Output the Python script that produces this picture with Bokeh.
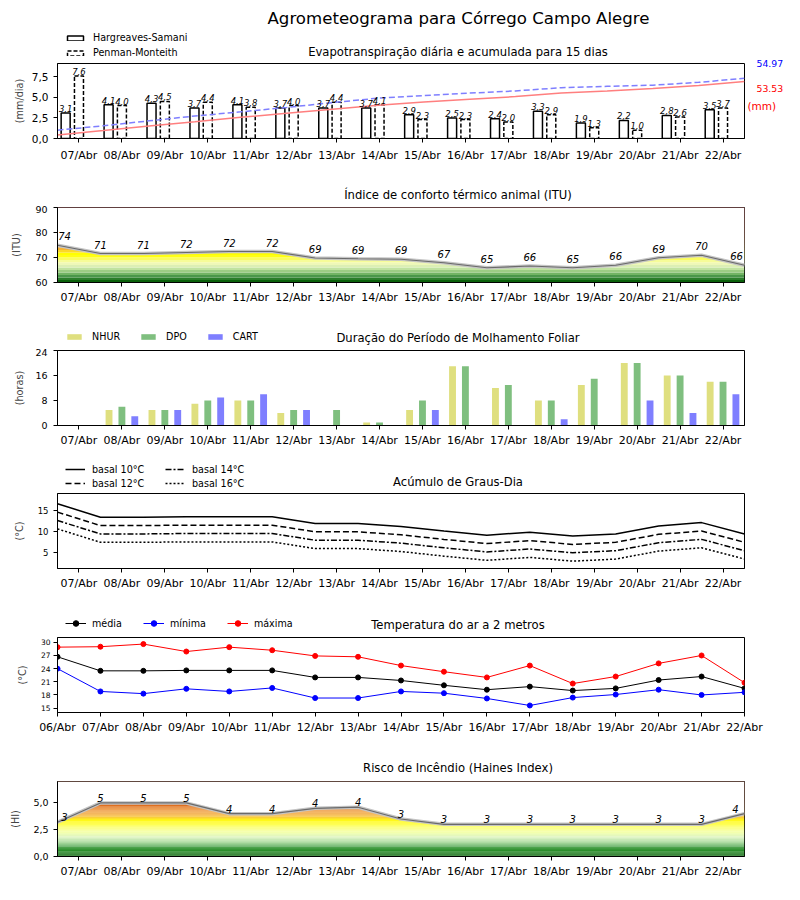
import numpy as np
from bokeh.plotting import figure
from bokeh.models import Range1d, FixedTicker, CustomJSTickFormatter, Legend, LegendItem, Label
from bokeh.layouts import column, row
from bokeh.embed import file_html
from bokeh.resources import INLINE
from bokeh.core.properties import value

FONT = "DejaVu Sans"

# ---------------- data ----------------
dates_all = ["06/Abr", "07/Abr", "08/Abr", "09/Abr", "10/Abr", "11/Abr", "12/Abr", "13/Abr",
             "14/Abr", "15/Abr", "16/Abr", "17/Abr", "18/Abr", "19/Abr", "20/Abr", "21/Abr", "22/Abr"]
days = dates_all[1:]

et_hs = [3.1, 4.1, 4.3, 3.7, 4.1, 3.7, 3.7, 3.7, 2.9, 2.5, 2.4, 3.3, 1.9, 2.2, 2.8, 3.5]
et_pm = [7.6, 4.0, 4.5, 4.4, 3.8, 4.0, 4.4, 4.1, 2.3, 2.3, 2.0, 2.9, 1.3, 1.0, 2.6, 3.7]
et_pm_total = "54.97"
et_hs_total = "53.53"

itu = [74.9, 71.6, 71.6, 72.0, 72.4, 72.4, 69.8, 69.5, 69.3, 67.9, 65.9, 66.6, 65.9, 66.9, 69.9, 70.9, 66.9]
itu_labels = [74, 71, 71, 72, 72, 72, 69, 69, 69, 67, 65, 66, 65, 66, 69, 70, 66]

nhur = [0, 5, 5, 7, 8, 4, 0, 1, 5, 19, 12, 8, 13, 20, 16, 14]
dpo = [0, 6, 5, 8, 8, 5, 5, 1, 8, 19, 13, 8, 15, 20, 16, 14]
cart = [0, 3, 5, 9, 10, 5, 0, 0, 5, 0, 0, 2, 0, 8, 4, 10]

gd_10 = [16.7, 13.5, 13.5, 13.6, 13.6, 13.6, 12.0, 12.0, 11.3, 10.2, 9.2, 9.9, 9.0, 9.5, 11.4, 12.2, 9.5]
gd_12 = [14.7, 11.5, 11.5, 11.6, 11.6, 11.6, 10.0, 10.0, 9.3, 8.2, 7.2, 7.9, 7.0, 7.5, 9.4, 10.2, 7.5]
gd_14 = [12.7, 9.5, 9.5, 9.6, 9.6, 9.6, 8.0, 8.0, 7.3, 6.2, 5.2, 5.9, 5.0, 5.5, 7.4, 8.2, 5.5]
gd_16 = [10.7, 7.5, 7.5, 7.6, 7.6, 7.6, 6.0, 6.0, 5.3, 4.2, 3.2, 3.9, 3.0, 3.5, 5.4, 6.2, 3.5]

t_med = [26.7, 23.5, 23.5, 23.6, 23.6, 23.6, 22.0, 22.0, 21.3, 20.2, 19.2, 19.9, 19.0, 19.5, 21.4, 22.2, 19.5]
t_min = [24.0, 18.8, 18.3, 19.4, 18.8, 19.6, 17.3, 17.3, 18.8, 18.4, 17.2, 15.6, 17.4, 18.1, 19.2, 18.0, 18.6]
t_max = [28.9, 29.0, 29.6, 27.9, 28.9, 28.2, 26.9, 26.7, 24.7, 23.3, 22.0, 24.7, 20.6, 22.2, 25.2, 27.0, 20.8]

haines = [3.2, 5.0, 5.0, 5.0, 4.0, 4.0, 4.5, 4.6, 3.5, 3.0, 3.0, 3.0, 3.0, 3.0, 3.0, 3.0, 4.0]
haines_labels = [3, 5, 5, 5, 4, 4, 4, 4, 3, 3, 3, 3, 3, 3, 3, 3, 4]

main_title = "Agrometeograma para Córrego Campo Alegre"
titles = ["Evapotranspiração diária e acumulada para 15 dias",
          "Índice de conforto térmico animal (ITU)",
          "Duração do Período de Molhamento Foliar",
          "Acúmulo de Graus-Dia",
          "Temperatura do ar a 2 metros",
          "Risco de Incêndio (Haines Index)"]

# ---------------- layout constants ----------------
BL, FW, FH = 57, 687, 75
TOTAL_W = 792
x17 = np.arange(len(dates_all))          # day boundaries
xc = np.arange(len(days)) + 0.5          # day centres
NAN = [np.nan]                           # legend-only renderers (nothing drawn in the plot)


def comma_fmt():
    return CustomJSTickFormatter(code="return tick.toFixed(1).replace('.', ',');")


def base_fig(y0, y1, yticks, ytick_size, ylabel, ylabel_standoff, ytick_standoff=5, day_ticks=True,
             right=TOTAL_W - BL - FW):
    p = figure(frame_width=FW, frame_height=FH, x_range=Range1d(0, 16), y_range=Range1d(y0, y1),
               output_backend="svg", toolbar_location=None,
               min_border_left=BL, min_border_right=right, min_border_top=2, min_border_bottom=29)
    p.xgrid.visible = False
    p.ygrid.visible = False
    p.outline_line_color = "black"
    p.outline_line_alpha = 1
    p.outline_line_width = 1
    p.background_fill_color = "white"
    p.border_fill_color = "white"
    for ax in (p.xaxis[0], p.yaxis[0]):
        ax.axis_line_color = "black"
        ax.major_tick_line_color = "black"
        ax.major_tick_out = 4
        ax.major_tick_in = 0
        ax.minor_tick_line_color = None
        ax.major_label_text_font = FONT
        ax.major_label_text_color = "black"
        ax.axis_label_text_font = FONT
        ax.axis_label_text_font_style = "normal"
        ax.axis_label_text_font_size = "9.7px"
    p.xaxis.major_label_text_font_size = "11px"
    p.xaxis.major_label_standoff = 4
    if day_ticks:
        p.xaxis.ticker = FixedTicker(ticks=list(xc))
        p.xaxis.formatter = CustomJSTickFormatter(args=dict(labels=days),
                                                  code="return labels[Math.round(tick - 0.5)];")
    else:
        p.xaxis.ticker = FixedTicker(ticks=list(x17))
        p.xaxis.formatter = CustomJSTickFormatter(args=dict(labels=dates_all),
                                                  code="return labels[Math.round(tick)];")
    p.yaxis.ticker = FixedTicker(ticks=yticks)
    p.yaxis.major_label_text_font_size = ytick_size
    p.yaxis.major_label_standoff = ytick_standoff
    p.yaxis.axis_label = ylabel
    p.yaxis.axis_label_standoff = ylabel_standoff
    return p


def header(h, title, title_y, width=TOTAL_W):
    f = figure(frame_width=width, frame_height=h, x_range=Range1d(0, width), y_range=Range1d(h, 0),
               x_axis_type=None, y_axis_type=None, output_backend="svg", toolbar_location=None,
               min_border=0)
    f.outline_line_color = None
    f.background_fill_color = "white"
    f.border_fill_color = "white"
    f.add_layout(Label(x=BL + FW / 2, y=title_y, text=title, text_align="center", text_baseline="middle",
                       text_font=FONT, text_font_size="11.6px", text_color="black"))
    return f


def style_legend(lg, gw, gh, lh, standoff, spacing, orientation):
    lg.orientation = orientation
    lg.glyph_width = gw
    lg.glyph_height = gh
    lg.label_height = lh
    lg.label_standoff = standoff
    lg.spacing = spacing
    lg.padding = 0
    lg.margin = 0
    lg.border_line_color = None
    lg.background_fill_alpha = 0
    lg.label_text_font = FONT
    lg.label_text_font_size = "9.6px"
    lg.label_text_color = "black"


def interp_colors(stops, vals):
    sv = [s[0] for s in stops]
    rgb = np.array([[int(h[i:i + 2], 16) for i in (1, 3, 5)] for _, h in stops], dtype=float)
    out = []
    for v in vals:
        c = [int(round(np.interp(v, sv, rgb[:, k]))) for k in range(3)]
        out.append("#%02x%02x%02x" % tuple(c))
    return out


def gradient_area(p, y1, edges, colors, vals):
    p.quad(left=0, right=16, bottom=edges[:-1], top=edges[1:], fill_color=colors, line_color=None)
    p.varea(x=x17, y1=vals, y2=y1, fill_color="white")
    p.line(x17, vals, color="#c4c4c4", line_width=3.5)
    p.line(x17, vals, color="#6a6a6a", line_width=1.2)


def fmt1(v):
    return ("%.1f" % v).replace(".", ",")


# ---------------- panel 1: ET ----------------
W1 = BL + FW + 2
h1 = header(61, titles[0], 51, width=W1)
h1.add_layout(Label(x=BL + FW / 2 + 0.5, y=18, text=main_title, text_align="center", text_baseline="middle",
                    text_font=FONT, text_font_size="16.6px", text_color="black"))
d_hs = h1.vbar(x=NAN, top=NAN, width=1, fill_color="white", line_color="black", line_width=1.5)
d_pm = h1.vbar(x=NAN, top=NAN, width=1, fill_color="white", line_color="black", line_width=1.5,
               line_dash="4 2")
lg1 = Legend(items=[LegendItem(label="Hargreaves-Samani", renderers=[d_hs]),
                    LegendItem(label="Penman-Monteith", renderers=[d_pm])], location=(65, 1))
style_legend(lg1, 20, 6, 15, 8, 0, "vertical")
h1.add_layout(lg1)

r1 = (0, 9.12)
p1 = base_fig(r1[0], r1[1], [0, 2.5, 5, 7.5], "10.5px", "(mm/dia)", 4, ytick_standoff=5, right=2)
p1.yaxis.formatter = comma_fmt()
p1.xaxis.major_label_standoff = 6
p1.vbar(x=xc - 0.31, top=et_hs, width=0.21, fill_color="white", line_color="black", line_width=1.5)
p1.vbar(x=xc, top=et_pm, width=0.21, fill_color="white", line_color="black", line_width=1.5, line_dash="4 2")
p1.extra_y_ranges = {"acc": Range1d(0, 68.4)}
xs_acc = np.linspace(0, 16, len(et_pm))
p1.line(xs_acc, np.cumsum(et_pm), y_range_name="acc", color="#7f7fff", line_width=1.5, line_dash="6 3")
p1.line(xs_acc, np.cumsum(et_hs), y_range_name="acc", color="#ff7f7f", line_width=1.5)
p1.text(x=xc - 0.31, y=et_hs, text=[fmt1(v) for v in et_hs], text_align="center", text_baseline="bottom",
        y_offset=-1, text_font=value(FONT), text_font_style="italic", text_font_size="8.5px", text_color="black")
p1.text(x=xc, y=et_pm, text=[fmt1(v) for v in et_pm], text_align="center", text_baseline="bottom",
        y_offset=-1, text_font=value(FONT), text_font_style="italic", text_font_size="8.5px", text_color="black")

SW = TOTAL_W - W1
H1TOT = 61 + 106
side1 = figure(frame_width=SW, frame_height=H1TOT, x_range=Range1d(0, SW), y_range=Range1d(H1TOT, 0),
               x_axis_type=None, y_axis_type=None, output_backend="svg", toolbar_location=None, min_border=0)
side1.outline_line_color = None
side1.add_layout(Label(x=10, y=63, text=et_pm_total, text_color="blue", text_font=FONT,
                       text_font_size="9.3px", text_baseline="middle", text_align="left"))
side1.add_layout(Label(x=10, y=87.5, text=et_hs_total, text_color="red", text_font=FONT,
                       text_font_size="9.3px", text_baseline="middle", text_align="left"))
side1.add_layout(Label(x=1, y=105.3, text="(mm)", text_color="red", text_font=FONT,
                       text_font_size="10.5px", text_baseline="middle", text_align="left"))

# ---------------- panel 2: ITU ----------------
h2 = header(38, titles[1], 27)
r2 = (60, 90)
p2 = base_fig(r2[0], r2[1], [60, 70, 80, 90], "9.5px", "(ITU)", 10, ytick_standoff=6)
itu_edges = np.arange(60, 91, 1.0)
itu_stops = [(60.5, "#0b610b"), (61.5, "#2a7d2a"), (62.5, "#4a964a"), (63.5, "#72b464"), (64.5, "#9ccc84"),
             (65.5, "#c0e2a0"), (66.5, "#dcefb4"), (67.5, "#eef8b8"), (68.5, "#f6fc98"), (69.5, "#fafc60"),
             (70.5, "#ffff14"), (71.5, "#ffff00"), (72.5, "#fcd828"), (73.5, "#f6b432"), (74.5, "#ee9a2c"),
             (76.0, "#e67a20"), (80.0, "#d84010"), (90.0, "#b00000")]
gradient_area(p2, r2[1], itu_edges, interp_colors(itu_stops, itu_edges[:-1] + 0.5), itu)
xoff = [0] * len(itu)
xoff[0] = 7
xoff[-1] = -8
p2.text(x=x17, y=itu, text=[str(v) for v in itu_labels], x_offset=xoff, y_offset=-5, text_align="center",
        text_baseline="bottom", text_font=value(FONT), text_font_style="italic", text_font_size="10px",
        text_color="black")

# ---------------- panel 3: leaf wetness ----------------
h3 = header(37, titles[2], 26)
c_n, c_d, c_c = "#dfdf7f", "#7fbf7f", "#7f7fff"
dn = h3.vbar(x=NAN, top=NAN, width=1, fill_color=c_n, line_color=None)
dd = h3.vbar(x=NAN, top=NAN, width=1, fill_color=c_d, line_color=None)
dc = h3.vbar(x=NAN, top=NAN, width=1, fill_color=c_c, line_color=None)
lg3 = Legend(items=[LegendItem(label="NHUR", renderers=[dn]), LegendItem(label="DPO", renderers=[dd]),
                    LegendItem(label="CART", renderers=[dc])], location=(65, 5))
style_legend(lg3, 18, 7, 14, 9, 19, "horizontal")
h3.add_layout(lg3)
r3 = (0, 24)
p3 = base_fig(r3[0], r3[1], [0, 8, 16, 24], "9.5px", "(horas)", 7, ytick_standoff=6)
p3.vbar(x=xc - 0.3, top=nhur, width=0.16, fill_color=c_n, line_color=None)
p3.vbar(x=xc, top=dpo, width=0.16, fill_color=c_d, line_color=None)
p3.vbar(x=xc + 0.3, top=cart, width=0.16, fill_color=c_c, line_color=None)

# ---------------- panel 4: degree days ----------------
h4 = header(37, titles[3], 27)
dash4 = ["solid", "6 3", "6 2 2 2", "2 2"]
labels4 = ["basal 10°C", "basal 12°C", "basal 14°C", "basal 16°C"]
dl = [h4.line(x=NAN, y=NAN, color="black", line_width=1.5, line_dash=d) for d in dash4]
lg4a = Legend(items=[LegendItem(label=labels4[0], renderers=[dl[0]]),
                     LegendItem(label=labels4[1], renderers=[dl[1]])], location=(65, 1))
style_legend(lg4a, 20, 14, 14, 7, 0, "vertical")
lg4b = Legend(items=[LegendItem(label=labels4[2], renderers=[dl[2]]),
                     LegendItem(label=labels4[3], renderers=[dl[3]])], location=(165, 1))
style_legend(lg4b, 20, 14, 14, 7, 0, "vertical")
h4.add_layout(lg4a)
h4.add_layout(lg4b)
r4 = (1.25, 19.15)
p4 = base_fig(r4[0], r4[1], [5, 10, 15], "8.5px", "(°C)", 10, ytick_standoff=5)
for ser, d in zip([gd_10, gd_12, gd_14, gd_16], dash4):
    p4.line(x17, ser, color="black", line_width=1.5, line_dash=d)

# ---------------- panel 5: temperature ----------------
h5 = header(38, titles[4], 27)
cols5 = ["black", "blue", "red"]
labels5 = ["média", "mínima", "máxima"]
items5 = []
for c, lab in zip(cols5, labels5):
    a = h5.line(x=NAN, y=NAN, color=c, line_width=1)
    b = h5.scatter(x=NAN, y=NAN, size=5, color=c)
    items5.append(LegendItem(label=lab, renderers=[a, b]))
lg5 = Legend(items=items5, location=(65, 5))
style_legend(lg5, 21, 14, 14, 6, 21, "horizontal")
h5.add_layout(lg5)
r5 = (14.0, 31.1)
p5 = base_fig(r5[0], r5[1], [15, 18, 21, 24, 27, 30], "7.5px", "(°C)", 10, ytick_standoff=3, day_ticks=False)
for ser, c in zip([t_med, t_min, t_max], cols5):
    p5.line(x17, ser, color=c, line_width=1)
    p5.scatter(x17, ser, size=5, color=c)

# ---------------- panel 6: Haines ----------------
h6 = header(38, titles[5], 26)
r6 = (0, 7.0)
p6 = base_fig(r6[0], r6[1], [0, 2.5, 5], "9.5px", "(HI)", 9, ytick_standoff=5)
p6.yaxis.formatter = comma_fmt()
h_edges = np.arange(0, 7.01, 0.1)
h_stops = [(0.0, "#056005"), (0.5, "#268a26"), (1.0, "#5cae5c"), (1.4, "#a0d890"), (1.8, "#dcf4c0"),
           (2.2, "#f2ffb4"), (2.6, "#f8ff7c"), (3.0, "#ffff28"), (3.4, "#fff818"), (3.7, "#f8c83c"),
           (4.0, "#f2a83a"), (4.5, "#e8842a"), (5.0, "#d45a14"), (7.0, "#b03000")]
gradient_area(p6, r6[1], h_edges, interp_colors(h_stops, h_edges[:-1] + 0.05), haines)
hoff = [0] * len(haines)
hoff[0] = 7
hoff[-1] = -9
p6.text(x=x17, y=haines, text=[str(v) for v in haines_labels], x_offset=hoff, y_offset=-1,
        text_align="center", text_baseline="bottom", text_font=value(FONT), text_font_style="italic",
        text_font_size="10px", text_color="black")

layout = column(row(column(h1, p1), side1), h2, p2, h3, p3, h4, p4, h5, p5, h6, p6)
open("out.html", "w").write(file_html(layout, INLINE))
